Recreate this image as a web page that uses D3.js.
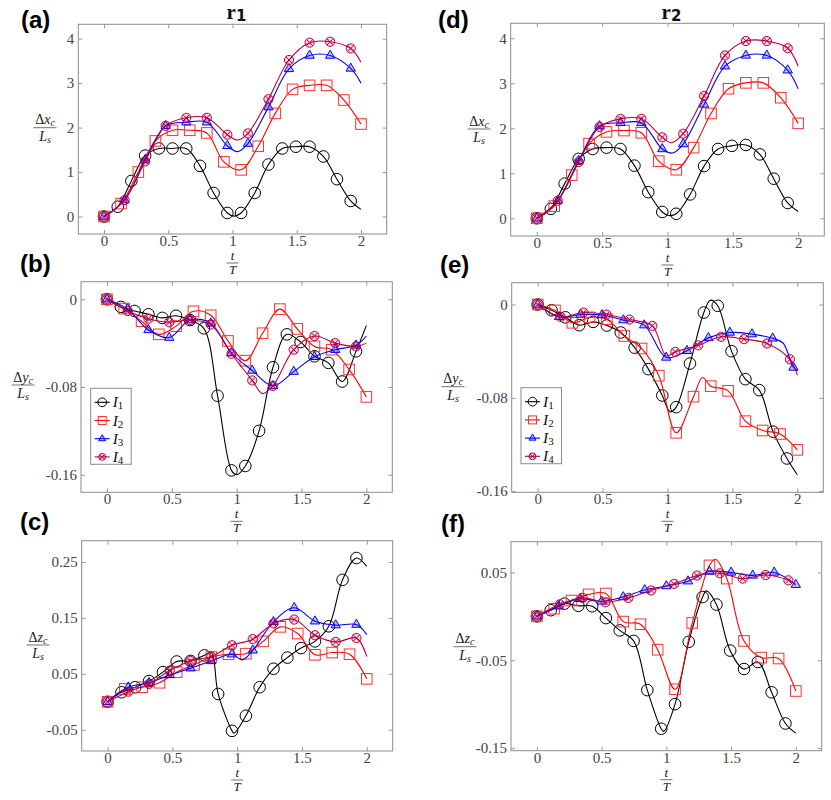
<!DOCTYPE html>
<html>
<head>
<meta charset="utf-8">
<script src="https://cdn.jsdelivr.net/npm/d3@7"></script>
<style>
  body { margin: 0; background: #fff; }
  svg text { font-family: "Liberation Serif", serif; }
</style>
</head>
<body>
<svg id="chart" width="831" height="800"></svg>
<script>
// marker times (t/T) for each series
const tI1 = [0, 0.107, 0.213, 0.32, 0.427, 0.533, 0.64, 0.747, 0.853, 0.96, 1.067, 1.173, 1.28, 1.387, 1.493, 1.6, 1.707, 1.813, 1.92];
const tI2 = [0, 0.133, 0.267, 0.4, 0.533, 0.667, 0.8, 0.933, 1.067, 1.2, 1.333, 1.467, 1.6, 1.733, 1.867, 2.0];
const tI34 = [0, 0.16, 0.32, 0.48, 0.64, 0.8, 0.96, 1.12, 1.28, 1.44, 1.6, 1.76, 1.92];
const tI3e = [0, 0.165, 0.33, 0.495, 0.66, 0.82, 0.99, 1.15, 1.315, 1.48, 1.65, 1.81, 1.97];
const tI3f = [0, 0.167, 0.333, 0.5, 0.667, 0.833, 1.0, 1.167, 1.333, 1.5, 1.667, 1.833, 2.0];
const tI4ef = [0, 0.177, 0.353, 0.53, 0.707, 0.883, 1.06, 1.237, 1.413, 1.59, 1.767, 1.943];

const xTicks = [0, 0.5, 1, 1.5, 2];
const xTickLabels = ["0", "0.5", "1", "1.5", "2"];

// (a) dx r1
const aI1 = [0, 0.22, 0.80, 1.37, 1.53, 1.53, 1.53, 1.14, 0.53, 0.08, 0.08, 0.53, 1.17, 1.53, 1.57, 1.57, 1.35, 0.84, 0.35];
const aI1x = [[1.01, 0.01], [2, 0.16]];
const aI2 = [0, 0.29, 1.0, 1.70, 1.94, 1.94, 1.88, 1.23, 1.05, 1.58, 2.32, 2.86, 2.95, 2.95, 2.62, 2.08];
const aI3 = [0, 0.37, 1.27, 2.04, 2.12, 2.12, 1.59, 1.64, 2.46, 3.32, 3.62, 3.62, 3.33];
const aI3x = [[1.04, 1.46], [2, 3.0]];
const aI4 = [0, 0.37, 1.24, 2.04, 2.22, 2.22, 1.84, 1.87, 2.64, 3.52, 3.91, 3.93, 3.78];
const aI4x = [[1.04, 1.72], [2, 3.47]];

// (b) dy r1
const bI1 = [0, -0.007, -0.0107, -0.0137, -0.017, -0.015, -0.019, -0.0265, -0.088, -0.156, -0.152, -0.12, -0.062, -0.032, -0.039, -0.052, -0.058, -0.075, -0.0475];
const bI1x = [[1.0, -0.16], [2, -0.024]];
const bI2 = [0, -0.0085, -0.02, -0.032, -0.0245, -0.011, -0.0146, -0.038, -0.056, -0.031, -0.009, -0.027, -0.043, -0.046, -0.064, -0.089];
const bI3 = [0, -0.009, -0.028, -0.035, -0.019, -0.022, -0.049, -0.065, -0.079, -0.066, -0.0525, -0.046, -0.042];
const bI3x = [[2, -0.0335]];
const bI4 = [0, -0.0107, -0.0177, -0.021, -0.019, -0.023, -0.0497, -0.074, -0.079, -0.046, -0.0335, -0.04, -0.043];
const bI4x = [[1.2, -0.086], [2, -0.04]];

// (c) dz r1
const cI1 = [0, 0.017, 0.026, 0.037, 0.053, 0.072, 0.073, 0.083, 0.014, -0.052, -0.025, 0.026, 0.059, 0.079, 0.096, 0.108, 0.135, 0.218, 0.257];
const cI1x = [[0.8, 0.088], [0.975, -0.056], [2, 0.242]];
const cI2 = [0, 0.023, 0.026, 0.034, 0.053, 0.066, 0.080, 0.085, 0.086, 0.108, 0.134, 0.122, 0.084, 0.088, 0.085, 0.041];
const cI3 = [0, 0.026, 0.034, 0.048, 0.060, 0.073, 0.085, 0.092, 0.143, 0.168, 0.144, 0.137, 0.138];
const cI3x = [[1.04, 0.075], [2, 0.12]];
const cI4 = [0, 0.018, 0.032, 0.056, 0.073, 0.081, 0.101, 0.112, 0.14, 0.147, 0.119, 0.107, 0.114];
const cI4x = [[2, 0.081]];

// (d) dx r2
const dI1 = [0, 0.21, 0.77, 1.32, 1.54, 1.57, 1.54, 1.17, 0.58, 0.14, 0.10, 0.53, 1.16, 1.54, 1.61, 1.63, 1.42, 0.88, 0.34];
const dI1x = [[1.01, 0.06], [2, 0.15]];
const dI2 = [0, 0.27, 0.96, 1.66, 1.92, 1.95, 1.9, 1.27, 1.08, 1.57, 2.33, 2.88, 3.01, 3.01, 2.68, 2.11];
const dI3 = [0, 0.39, 1.28, 2.05, 2.12, 2.12, 1.54, 1.65, 2.53, 3.38, 3.62, 3.62, 3.29];
const dI3x = [[1.04, 1.45], [2, 2.88]];
const dI4 = [0, 0.39, 1.25, 2.03, 2.21, 2.21, 1.80, 1.88, 2.72, 3.62, 3.94, 3.94, 3.78];
const dI4x = [[1.03, 1.68], [2, 3.38]];

// (e) dy r2
const eI1 = [0, -0.0049, -0.011, -0.0177, -0.0149, -0.018, -0.024, -0.037, -0.0554, -0.078, -0.088, -0.0506, -0.0069, -0.0011, -0.04, -0.064, -0.0734, -0.109, -0.132];
const eI1x = [[1.02, -0.092], [1.33, 0.0037], [2, -0.146]];
const eI2 = [0, -0.005, -0.0157, -0.011, -0.0126, -0.027, -0.0377, -0.061, -0.11, -0.079, -0.07, -0.074, -0.1, -0.108, -0.111, -0.1246];
const eI2x = [[1.27, -0.0626]];
const eI3 = [0, -0.0106, -0.0086, -0.009, -0.0134, -0.0177, -0.0454, -0.0397, -0.0286, -0.024, -0.0254, -0.029, -0.054];
const eI3x = [[1.89, -0.033], [2, -0.056]];
const eI4 = [0, -0.0106, -0.0069, -0.0086, -0.0129, -0.0183, -0.0406, -0.035, -0.0277, -0.0297, -0.0334, -0.047];
const eI4x = [[0.99, -0.044], [2, -0.0606]];

// (f) dz r2
const fI1 = [0, 0.007, 0.0145, 0.012, 0.0115, -0.002, -0.016, -0.028, -0.084, -0.128, -0.1, -0.029, 0.022, 0.0134, -0.039, -0.06, -0.052, -0.0865, -0.122];
const fI1x = [[0.98, -0.131], [1.31, 0.029], [2, -0.133]];
const fI2 = [0, 0.0087, 0.018, 0.025, 0.026, -0.006, -0.009, -0.038, -0.083, -0.0075, 0.058, 0.043, -0.028, -0.047, -0.048, -0.085];
const fI2x = [[1.38, 0.065]];
const fI3 = [0, 0.0115, 0.02, 0.017, 0.022, 0.03, 0.0345, 0.04, 0.051, 0.05, 0.0466, 0.05, 0.036];
const fI4 = [0, 0.0137, 0.021, 0.016, 0.021, 0.0295, 0.037, 0.0465, 0.049, 0.043, 0.047, 0.041];
const fI4x = [[2, 0.036]];

const seriesNames = ["1", "2", "3", "4"];
const seriesColors = ["#000000", "#ff0000", "#0000ff", "#bf0040"];
const seriesMarks = ["circle", "square", "triangle", "otimes"];

const svg = d3.select("#chart");

const panels = [
  {tag: "(a)", tagX: 21, tagY: 28, title: "1", frame: [78.3, 24.3, 308.4, 209.7], yDom: [-0.393, 4.323],
   yTicks: [0, 1, 2, 3, 4], yLabels: ["0", "1", "2", "3", "4"], ylab: "x", ylabPos: [45, 127.7],
   series: [[tI1, aI1, aI1x], [tI2, aI2, []], [tI34, aI3, aI3x], [tI34, aI4, aI4x]]},
  {tag: "(b)", tagX: 20, tagY: 272, frame: [81, 281.7, 311.3, 210.6], yDom: [-0.176, 0.016],
   yTicks: [0, -0.08, -0.16], yLabels: ["0", "-0.08", "-0.16"], ylab: "y", ylabPos: [23, 385], legend: [90.7, 388.3],
   series: [[tI1, bI1, bI1x], [tI2, bI2, []], [tI34, bI3, bI3x], [tI34, bI4, bI4x]]},
  {tag: "(c)", tagX: 20, tagY: 530, frame: [81.7, 540.7, 311, 210.3], yDom: [-0.088, 0.288],
   yTicks: [-0.05, 0.05, 0.15, 0.25], yLabels: ["-0.05", "0.05", "0.15", "0.25"], ylab: "z", ylabPos: [38, 645],
   series: [[tI1, cI1, cI1x], [tI2, cI2, []], [tI34, cI3, cI3x], [tI34, cI4, cI4x]]},
  {tag: "(d)", tagX: 438, tagY: 28, title: "2", frame: [510.7, 23.3, 313.6, 212.7], yDom: [-0.394, 4.334],
   yTicks: [0, 1, 2, 3, 4], yLabels: ["0", "1", "2", "3", "4"], ylab: "x", ylabPos: [479, 129],
   series: [[tI1, dI1, dI1x], [tI2, dI2, []], [tI34, dI3, dI3x], [tI34, dI4, dI4x]]},
  {tag: "(e)", tagX: 440, tagY: 273, frame: [511.7, 282.7, 311.6, 209.6], yDom: [-0.161, 0.0187],
   yTicks: [0, -0.08, -0.16], yLabels: ["0", "-0.08", "-0.16"], ylab: "y", ylabPos: [453, 386.7], legend: [521, 387.7],
   series: [[tI1, eI1, eI1x], [tI2, eI2, eI2x], [tI3e, eI3, eI3x], [tI4ef, eI4, eI4x]]},
  {tag: "(f)", tagX: 441, tagY: 532, frame: [511, 541.7, 310.7, 209], yDom: [-0.153, 0.085],
   yTicks: [-0.15, -0.05, 0.05], yLabels: ["-0.15", "-0.05", "0.05"], ylab: "z", ylabPos: [465, 646.7],
   series: [[tI1, fI1, fI1x], [tI2, fI2, fI2x], [tI3f, fI3, []], [tI4ef, fI4, fI4x]]}
];

function drawMarker(g, kind, color, x, y, s) {
  if (kind === "circle") {
    g.append("circle").attr("cx", x).attr("cy", y).attr("r", 5.8 * s)
      .attr("fill", "none").attr("stroke", color).attr("stroke-width", 1);
  } else if (kind === "square") {
    const h = 5.3 * s;
    g.append("rect").attr("x", x - h).attr("y", y - h).attr("width", 2 * h).attr("height", 2 * h)
      .attr("fill", "none").attr("stroke", "#ff3030").attr("stroke-width", 1);
  } else if (kind === "triangle") {
    const r = 5.4 * s;
    g.append("path")
      .attr("d", `M${x},${y - r}L${x + r * 0.866},${y + r * 0.5}L${x - r * 0.866},${y + r * 0.5}Z`)
      .attr("fill", "rgba(0,0,255,0.25)").attr("stroke", color).attr("stroke-width", 1);
  } else {
    const r = 4.6 * s, k = r * 0.707;
    g.append("circle").attr("cx", x).attr("cy", y).attr("r", r)
      .attr("fill", "rgba(191,0,64,0.15)").attr("stroke", color).attr("stroke-width", 1);
    g.append("path").attr("d", `M${x - k},${y - k}L${x + k},${y + k}M${x - k},${y + k}L${x + k},${y - k}`)
      .attr("stroke", color).attr("stroke-width", 1);
  }
}

function fracLabel(g, cx, cy, top, bottom, size, barW, numDy, denDy) {
  g.append("line").attr("x1", cx - barW / 2).attr("x2", cx + barW / 2)
    .attr("y1", cy).attr("y2", cy).attr("stroke", "#333").attr("stroke-width", 0.7);
  const tNum = g.append("text").attr("x", cx).attr("y", cy - numDy).attr("text-anchor", "middle")
    .attr("font-size", size).attr("fill", "#222");
  top(tNum);
  const tDen = g.append("text").attr("x", cx).attr("y", cy + denDy).attr("text-anchor", "middle")
    .attr("font-size", size).attr("fill", "#222");
  bottom(tDen);
}

panels.forEach(p => {
  const [fx, fy, fw, fh] = p.frame;
  const x = d3.scaleLinear().domain([-0.2, 2.2]).range([fx, fx + fw]);
  const y = d3.scaleLinear().domain(p.yDom).range([fy + fh, fy]);
  const g = svg.append("g");

  // ticks, inside on all four sides
  const tickCol = "#999";
  g.append("g").attr("transform", `translate(0,${fy + fh})`)
    .call(d3.axisBottom(x).tickValues(xTicks).tickSize(-4).tickFormat((d, i) => xTickLabels[i]))
    .call(a => a.select(".domain").remove())
    .call(a => a.selectAll("line").attr("stroke", tickCol))
    .call(a => a.selectAll("text").attr("font-family", "Liberation Serif").attr("font-size", 15)
      .attr("fill", "#444").attr("y", 1.5));
  g.append("g").attr("transform", `translate(0,${fy})`)
    .call(d3.axisTop(x).tickValues(xTicks).tickSize(-4).tickFormat(""))
    .call(a => a.select(".domain").remove())
    .call(a => a.selectAll("line").attr("stroke", tickCol));
  g.append("g").attr("transform", `translate(${fx},0)`)
    .call(d3.axisLeft(y).tickValues(p.yTicks).tickSize(-4).tickFormat((d, i) => p.yLabels[i]))
    .call(a => a.select(".domain").remove())
    .call(a => a.selectAll("line").attr("stroke", tickCol))
    .call(a => a.selectAll("text").attr("font-family", "Liberation Serif").attr("font-size", 15)
      .attr("fill", "#444").attr("x", -4));
  g.append("g").attr("transform", `translate(${fx + fw},0)`)
    .call(d3.axisRight(y).tickValues(p.yTicks).tickSize(-4).tickFormat(""))
    .call(a => a.select(".domain").remove())
    .call(a => a.selectAll("line").attr("stroke", tickCol));

  // series
  const line = d3.line().x(d => x(d[0])).y(d => y(d[1])).curve(d3.curveCatmullRom.alpha(0.5));
  p.series.forEach((s, i) => {
    const [ts, vs, extra] = s;
    const pts = ts.map((t, j) => [t, vs[j]]).concat(extra).sort((a, b) => a[0] - b[0]);
    g.append("path").datum(pts).attr("d", line)
      .attr("fill", "none").attr("stroke", seriesColors[i]).attr("stroke-width", 1.1);
    const mg = g.append("g");
    ts.forEach((t, j) => drawMarker(mg, seriesMarks[i], seriesColors[i], x(t), y(vs[j]), 1));
  });

  // frame
  g.append("rect").attr("x", fx).attr("y", fy).attr("width", fw).attr("height", fh)
    .attr("fill", "none").attr("stroke", "#8c8c8c").attr("stroke-width", 1);

  // panel tag
  svg.append("text").attr("x", p.tagX).attr("y", p.tagY).text(p.tag)
    .attr("font-weight", "bold").attr("font-size", 24)
    .style("font-family", "Liberation Sans, Arial, sans-serif");

  // title r1 / r2
  if (p.title) {
    const tt = svg.append("text").attr("x", fx + fw / 2 + 4).attr("y", 19).attr("text-anchor", "middle")
      .attr("font-weight", "bold").attr("font-size", 21).attr("fill", "#111");
    tt.append("tspan").text("r");
    tt.append("tspan").text(p.title).attr("font-size", 15).attr("dy", 2)
      .style("font-family", "DejaVu Sans");
  }

  // x label t/T
  fracLabel(svg, fx + fw / 2, fy + fh + 29,
    t => t.append("tspan").text("t").attr("font-style", "italic"),
    t => t.append("tspan").text("T").attr("font-style", "italic"), 13, 12, 3, 11);

  // y label
  fracLabel(svg, p.ylabPos[0], p.ylabPos[1],
    t => {
      t.append("tspan").text("Δ");
      t.append("tspan").text(p.ylab).attr("font-style", "italic");
      t.append("tspan").text("c").attr("font-style", "italic").attr("font-size", 10).attr("dy", 2);
    },
    t => {
      t.append("tspan").text("L").attr("font-style", "italic");
      t.append("tspan").text("s").attr("font-style", "italic").attr("font-size", 10).attr("dy", 2);
    }, 14, 23, 3.5, 13);

  // legend
  if (p.legend) {
    const [lx, ly] = p.legend;
    const lg = svg.append("g");
    lg.append("rect").attr("x", lx).attr("y", ly).attr("width", 40.5).attr("height", 76)
      .attr("fill", "#fff").attr("stroke", "#8c8c8c").attr("stroke-width", 1);
    seriesNames.forEach((n, i) => {
      const cy = ly + 14 + i * 18.2;
      lg.append("line").attr("x1", lx + 4).attr("x2", lx + 19).attr("y1", cy).attr("y2", cy)
        .attr("stroke", seriesColors[i]).attr("stroke-width", 1.1);
      drawMarker(lg, seriesMarks[i], seriesColors[i], lx + 11.5, cy, 0.75);
      const tx = lg.append("text").attr("x", lx + 22).attr("y", cy + 5).attr("font-size", 15.5).attr("fill", "#111");
      tx.append("tspan").text("I").attr("font-style", "italic");
      tx.append("tspan").text(n).attr("font-size", 11).attr("dy", 2);
    });
  }
});
</script>
</body>
</html>
